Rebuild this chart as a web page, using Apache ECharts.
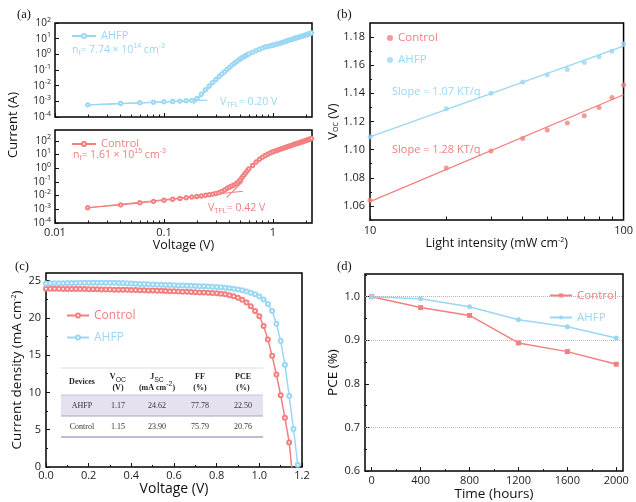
<!DOCTYPE html>
<html><head><meta charset="utf-8">
<script src="https://cdn.jsdelivr.net/npm/echarts@6/dist/echarts.min.js"></script>
<style>html,body{margin:0;padding:0;background:#fff}#c{width:636px;height:502px}</style>
</head><body><div id="c"></div>
<script>
// ---------- DATA ----------
// (a) SCLC dark J-V (log-log)
const scVolt = [0.02,0.04,0.06,0.08,0.10,0.12,0.14,0.16,0.18,0.20,
  0.22,0.24,0.26,0.28,0.30,0.32,0.34,0.36,0.38,0.40,
  0.42,0.44,0.46,0.48,0.50,0.52,0.54,0.56,0.58,0.60,
  0.65,0.70,0.75,0.80,0.85,0.90,0.95,1.00,1.05,1.10,
  1.15,1.20,1.25,1.30,1.35,1.40,1.45,1.50,1.55,1.60,
  1.65,1.70,1.75,1.80,1.85,1.90,1.95,2.00,2.05,2.10,
  2.15,2.20,2.25];
const scAHFP = [5.9e-4,7.2e-4,8.0e-4,8.7e-4,9.3e-4,9.8e-4,1.03e-3,1.08e-3,1.15e-3,1.5e-3,
  2.8e-3,5.5e-3,0.0095,0.016,0.025,0.038,0.055,0.078,0.11,0.15,
  0.20,0.26,0.33,0.41,0.50,0.60,0.70,0.82,0.94,1.05,
  1.35,1.7,2.1,2.5,2.9,3.2,3.5,3.8,4.2,4.6,
  5.0,5.5,6.0,6.6,7.3,8.0,8.6,9.2,9.9,10.6,
  11.3,12.0,12.8,13.6,14.4,15.3,16.2,17.2,18.2,19.3,
  20.4,21.6,22.8];
const scControl = [1.3e-3,2.1e-3,3.0e-3,3.8e-3,4.6e-3,5.4e-3,6.2e-3,7.0e-3,7.8e-3,8.6e-3,
  9.5e-3,0.0105,0.0116,0.0128,0.0142,0.0165,0.020,0.026,0.034,0.042,
  0.050,0.060,0.075,0.10,0.14,0.21,0.31,0.45,0.65,0.90,
  1.6,2.9,4.5,6.5,8.7,11,13.5,16,18.5,21,
  24,27,30,33,37,41,45,49,54,59,
  64,69,74,80,86,92,99,106,113,121,
  130,139,148];
const fitAHFPohmic = [[0.02,5.9e-4],[0.25,1.2e-3]];
const fitAHFPtfl = [[0.186,6.8e-4],[0.40,0.16]];
const fitControlOhmic = [[0.02,1.3e-3],[0.53,0.021]];
const fitControlTfl = [[0.376,0.0074],[0.53,0.11]];
const decadeTicks = [1e-4,1e-3,1e-2,1e-1,1,10,100];
const voltMajor = [0.01,0.1,1];
const voltMinor = [0.02,0.03,0.04,0.05,0.06,0.07,0.08,0.09,0.2,0.3,0.4,0.5,0.6,0.7,0.8,0.9,2];

// (b) Voc vs light intensity
const intensity = [10,20,30,40,50,60,70,80,90,100];
const vocControl = [1.064,1.087,1.099,1.108,1.114,1.119,1.124,1.130,1.137,1.146];
const vocAHFP = [1.109,1.129,1.140,1.148,1.153,1.157,1.162,1.166,1.170,1.175];
const fitVocControl = [[10,1.063],[100,1.139]];
const fitVocAHFP = [[10,1.109],[100,1.1735]];
const vocTicks = [1.06,1.08,1.10,1.12,1.14,1.16,1.18];
const vocMinor = [1.05,1.07,1.09,1.11,1.13,1.15,1.17];

// (c) J-V curves
const jvVolt = [0.00,0.02,0.04,0.06,0.08,0.10,0.12,0.14,0.16,0.18,
  0.20,0.22,0.24,0.26,0.28,0.30,0.32,0.34,0.36,0.38,
  0.40,0.42,0.44,0.46,0.48,0.50,0.52,0.54,0.56,0.58,
  0.60,0.62,0.64,0.66,0.68,0.70,0.72,0.74,0.76,0.78,
  0.80,0.82,0.84,0.86,0.88,0.90,0.92,0.94,0.96,0.98,
  1.00,1.02,1.04,1.06,1.08,1.10,1.12,1.14,1.16,1.18];
const jvControl = [23.90,23.89,23.88,23.88,23.87,23.86,23.86,23.85,23.84,23.84,
  23.83,23.82,23.81,23.80,23.79,23.78,23.77,23.76,23.75,23.74,
  23.73,23.71,23.70,23.68,23.67,23.65,23.63,23.61,23.59,23.57,
  23.55,23.53,23.50,23.48,23.45,23.42,23.40,23.37,23.34,23.31,
  23.28,23.22,23.14,23.03,22.88,22.68,22.40,22.05,21.55,20.90,
  20.20,18.90,17.10,14.90,12.40,9.60,6.60,3.30,-2.40];
const jvAHFP = [24.60,24.61,24.62,24.63,24.64,24.65,24.66,24.67,24.68,24.69,
  24.70,24.70,24.71,24.71,24.71,24.70,24.69,24.67,24.65,24.62,
  24.60,24.57,24.54,24.51,24.48,24.46,24.44,24.42,24.40,24.38,
  24.36,24.34,24.32,24.30,24.28,24.26,24.24,24.21,24.18,24.15,
  24.12,24.08,24.03,23.97,23.90,23.80,23.68,23.52,23.35,23.15,
  22.85,22.45,21.85,20.90,19.20,16.90,13.70,9.50,5.10,0.30];
const jTicks = [0,5,10,15,20,25];
const jMinor = [2.5,7.5,12.5,17.5,22.5];
// table in (c)
const tblDevices = ['AHFP','Control'];
const tblVoc = ['1.17','1.15'];
const tblJsc = ['24.62','23.90'];
const tblFF = ['77.78','75.79'];
const tblPCE = ['22.50','20.76'];

// (d) stability
const hours = [0,400,800,1200,1600,2000];
const pceControl = [1.0,0.975,0.957,0.894,0.874,0.845];
const pceAHFP = [1.0,0.995,0.977,0.947,0.931,0.905];
const hourMinor = [200,600,1000,1400,1800];
const pceTicks = [0.6,0.7,0.8,0.9,1.0];
const pceMinor = [0.65,0.75,0.85,0.95,1.05];
const pceGrid = [0.7,0.9,1.0];

// ---------- STYLE ----------
const RED = '#f37f7f', BLUE = '#9ad7f4', INK = '#1c1c1c';
const FONT = 'Open Sans', SERIF = 'Liberation Serif';
const zip = (xs, ys) => ys.map((y, i) => [xs[i], y]);
const rich = {
  sup: {fontSize: 7, padding: [0, 0, 7, 0]},
  sub: {fontSize: 7, padding: [6, 0, 0, 0]}
};

function mkAxis(o) {
  const base = {
    axisLine: {show: false, onZero: false},
    splitLine: {show: false},
    axisTick: {show: true, inside: true, length: 4, lineStyle: {color: '#111', width: 1}},
    axisLabel: {show: true, color: INK, fontFamily: FONT, fontSize: 11, margin: 4},
    nameTextStyle: {color: '#111', fontFamily: FONT, fontSize: 13, rich: rich}
  };
  for (const k in o) {
    if (base[k] && typeof o[k] === 'object' && !Array.isArray(o[k])) base[k] = Object.assign({}, base[k], o[k]);
    else base[k] = o[k];
  }
  return base;
}
const noLabel = {show: false};
const decFmt = v => '10{sup|' + Math.round(Math.log10(v)) + '}';
const gridStyle = {show: true, borderColor: '#000', borderWidth: 1.5, backgroundColor: 'transparent', containLabel: false};
const legName = n => n.split('_')[0];
const legItem = (name, color) => ({name: name, textStyle: {color: color}});

const option = {
  animation: false,
  backgroundColor: '#fff',
  grid: [
    Object.assign({left: 55, top: 23, width: 257, height: 94}, gridStyle),
    Object.assign({left: 55, top: 130, width: 257, height: 93}, gridStyle),
    Object.assign({left: 370, top: 23, width: 258, height: 197}, gridStyle),
    Object.assign({left: 46, top: 273, width: 256, height: 194}, gridStyle),
    Object.assign({left: 365, top: 274, width: 258, height: 198}, gridStyle)
  ],
  xAxis: [
    mkAxis({type: 'log', gridIndex: 0, position: 'bottom', min: 0.01, max: 2.28,
      axisTick: {customValues: voltMajor}, axisLabel: noLabel}),
    mkAxis({type: 'log', gridIndex: 0, position: 'bottom', min: 0.01, max: 2.28,
      axisTick: {customValues: voltMinor, length: 2.5}, axisLabel: noLabel}),
    mkAxis({type: 'log', gridIndex: 1, position: 'bottom', min: 0.01, max: 2.28,
      axisTick: {customValues: voltMajor},
      axisLabel: {customValues: voltMajor, formatter: v => String(+(+v).toPrecision(2)), fontSize: 11, margin: 4},
      name: 'Voltage (V)', nameLocation: 'middle', nameGap: 12, nameTextStyle: {fontSize: 12.5}}),
    mkAxis({type: 'log', gridIndex: 1, position: 'bottom', min: 0.01, max: 2.28,
      axisTick: {customValues: voltMinor, length: 2.5}, axisLabel: noLabel}),
    mkAxis({type: 'log', gridIndex: 2, position: 'bottom', min: 10, max: 100,
      axisTick: {customValues: intensity, length: 3.5},
      axisLabel: {customValues: [10, 100], margin: 5},
      name: 'Light intensity (mW cm{sup|-2})', nameLocation: 'middle', nameGap: 14, nameTextStyle: {fontSize: 12.5}}),
    mkAxis({type: 'value', gridIndex: 3, position: 'bottom', min: 0, max: 1.2, interval: 0.2,
      minorTick: {show: true, splitNumber: 2, length: 2, lineStyle: {color: '#111'}},
      axisLabel: {formatter: v => (+v).toFixed(1), margin: 3},
      name: 'Voltage (V)', nameLocation: 'middle', nameGap: 15, nameTextStyle: {fontSize: 14}}),
    mkAxis({type: 'value', gridIndex: 4, position: 'bottom', min: -55, max: 2055,
      axisTick: {customValues: hours},
      axisLabel: {customValues: hours, formatter: v => String(Math.round(v)), margin: 4},
      name: 'Time (hours)', nameLocation: 'middle', nameGap: 15, nameTextStyle: {fontSize: 13.5}}),
    mkAxis({type: 'value', gridIndex: 4, position: 'bottom', min: -55, max: 2055,
      axisTick: {customValues: hourMinor, length: 2}, axisLabel: noLabel})
  ],
  yAxis: [
    mkAxis({type: 'log', gridIndex: 0, position: 'left', min: 1e-4, max: 100,
      axisTick: {customValues: decadeTicks},
      axisLabel: {customValues: decadeTicks, formatter: decFmt, fontSize: 10, margin: 4, rich: rich}}),
    mkAxis({type: 'log', gridIndex: 1, position: 'left', min: 1e-4, max: 630,
      axisTick: {customValues: decadeTicks},
      axisLabel: {customValues: decadeTicks, formatter: decFmt, fontSize: 10, margin: 4, rich: rich}}),
    mkAxis({type: 'value', gridIndex: 2, position: 'left', min: 1.05, max: 1.19,
      axisTick: {customValues: vocTicks},
      axisLabel: {customValues: vocTicks, formatter: v => (+v).toFixed(2), margin: 5},
      name: 'V{sub|OC} (V)', nameLocation: 'middle', nameGap: 30, nameTextStyle: {fontSize: 13}}),
    mkAxis({type: 'value', gridIndex: 2, position: 'left', min: 1.05, max: 1.19,
      axisTick: {customValues: vocMinor, length: 2}, axisLabel: noLabel}),
    mkAxis({type: 'value', gridIndex: 3, position: 'left', min: 0, max: 26,
      axisTick: {customValues: jTicks},
      axisLabel: {customValues: jTicks, margin: 5},
      name: 'Current density (mA cm{sup|-2})', nameLocation: 'middle', nameGap: 20, nameTextStyle: {fontSize: 13.5}}),
    mkAxis({type: 'value', gridIndex: 3, position: 'left', min: 0, max: 26,
      axisTick: {customValues: jMinor, length: 2}, axisLabel: noLabel}),
    mkAxis({type: 'value', gridIndex: 4, position: 'left', min: 0.6, max: 1.052,
      axisTick: {customValues: pceTicks},
      axisLabel: {customValues: pceTicks, formatter: v => (+v).toFixed(1), margin: 5},
      name: 'PCE (%)', nameLocation: 'middle', nameGap: 22, nameTextStyle: {fontSize: 13.5}}),
    mkAxis({type: 'value', gridIndex: 4, position: 'left', min: 0.6, max: 1.052,
      axisTick: {customValues: pceMinor, length: 2}, axisLabel: noLabel})
  ],
  legend: [
    {data: [legItem('AHFP_a', BLUE)], left: 71, top: 30.5, itemWidth: 24, itemHeight: 5, formatter: legName,
      textStyle: {color: BLUE, fontFamily: FONT, fontSize: 11}, padding: 0},
    {data: [legItem('Control_a', RED)], left: 71, top: 138.5, itemWidth: 24, itemHeight: 5, formatter: legName,
      textStyle: {color: RED, fontFamily: FONT, fontSize: 11}, padding: 0},
    {data: [legItem('Control_b', RED), legItem('AHFP_b', BLUE)], left: 387, top: 32, orient: 'vertical',
      itemWidth: 6, itemHeight: 6, itemGap: 10, formatter: legName, padding: 0,
      textStyle: {fontFamily: FONT, fontSize: 11.5}},
    {data: [legItem('Control_c', RED), legItem('AHFP_c', BLUE)], left: 66, top: 309.5, orient: 'vertical',
      itemWidth: 22, itemHeight: 5, itemGap: 10, formatter: legName, padding: 0,
      textStyle: {fontFamily: FONT, fontSize: 12}},
    {data: [legItem('Control_d', RED), legItem('AHFP_d', BLUE)], left: 549, top: 289.5, orient: 'vertical',
      itemWidth: 22, itemHeight: 5, itemGap: 10, formatter: legName, padding: 0,
      textStyle: {fontFamily: FONT, fontSize: 11.5}}
  ],
  series: [
    {name: 'AHFP_a', type: 'line', xAxisIndex: 0, yAxisIndex: 0, data: zip(scVolt, scAHFP),
      symbol: 'emptyCircle', symbolSize: 3.5, color: BLUE, lineStyle: {width: 1.2, color: BLUE}, itemStyle: {color: BLUE, borderWidth: 0.8}},
    {name: 'fitA1', type: 'line', xAxisIndex: 0, yAxisIndex: 0, data: fitAHFPohmic, symbol: 'none', lineStyle: {width: 1.2, color: BLUE}},
    {name: 'fitA2', type: 'line', xAxisIndex: 0, yAxisIndex: 0, data: fitAHFPtfl, symbol: 'none', lineStyle: {width: 1.2, color: BLUE}},
    {name: 'Control_a', type: 'line', xAxisIndex: 2, yAxisIndex: 1, data: zip(scVolt, scControl),
      symbol: 'emptyCircle', symbolSize: 3.5, color: RED, lineStyle: {width: 1.2, color: RED}, itemStyle: {color: RED, borderWidth: 0.8}},
    {name: 'fitC1', type: 'line', xAxisIndex: 2, yAxisIndex: 1, data: fitControlOhmic, symbol: 'none', lineStyle: {width: 1.2, color: RED}},
    {name: 'fitC2', type: 'line', xAxisIndex: 2, yAxisIndex: 1, data: fitControlTfl, symbol: 'none', lineStyle: {width: 1.2, color: RED}},
    {name: 'Control_b', type: 'scatter', xAxisIndex: 4, yAxisIndex: 2, data: zip(intensity, vocControl),
      symbol: 'circle', symbolSize: 5, color: RED, itemStyle: {color: RED}},
    {name: 'AHFP_b', type: 'scatter', xAxisIndex: 4, yAxisIndex: 2, data: zip(intensity, vocAHFP),
      symbol: 'circle', symbolSize: 5, color: BLUE, itemStyle: {color: BLUE}},
    {name: 'fitB1', type: 'line', xAxisIndex: 4, yAxisIndex: 2, data: fitVocControl, symbol: 'none', lineStyle: {width: 1.3, color: RED}},
    {name: 'fitB2', type: 'line', xAxisIndex: 4, yAxisIndex: 2, data: fitVocAHFP, symbol: 'none', lineStyle: {width: 1.3, color: BLUE}},
    {name: 'Control_c', type: 'line', xAxisIndex: 5, yAxisIndex: 4, data: zip(jvVolt, jvControl),
      symbol: 'emptyCircle', symbolSize: 4, color: RED, lineStyle: {width: 1.5, color: RED}, itemStyle: {color: RED, borderWidth: 1}},
    {name: 'AHFP_c', type: 'line', xAxisIndex: 5, yAxisIndex: 4, data: zip(jvVolt, jvAHFP),
      symbol: 'emptyCircle', symbolSize: 4, color: BLUE, lineStyle: {width: 1.5, color: BLUE}, itemStyle: {color: BLUE, borderWidth: 1}},
    {name: 'Control_d', type: 'line', xAxisIndex: 6, yAxisIndex: 6, data: zip(hours, pceControl),
      symbol: 'rect', symbolSize: 5, color: RED, lineStyle: {width: 1.5, color: RED}, itemStyle: {color: RED},
      markLine: {silent: true, symbol: 'none', label: {show: false}, animation: false,
        lineStyle: {type: 'dotted', color: '#b5b5b5', width: 1},
        data: pceGrid.map(v => ({yAxis: v}))}},
    {name: 'AHFP_d', type: 'line', xAxisIndex: 6, yAxisIndex: 6, data: zip(hours, pceAHFP),
      symbol: 'circle', symbolSize: 5, color: BLUE, lineStyle: {width: 1.5, color: BLUE}, itemStyle: {color: BLUE}}
  ],
  graphic: []
};

// ---------- TEXT / TABLE ----------
const G = option.graphic;
function txt(x, y, text, o) {
  o = o || {};
  G.push({type: 'text', x: x, y: y, rotation: o.rot || 0, silent: true, z: 100,
    style: {text: text, fill: o.color || INK, fontSize: o.size || 11, fontFamily: o.font || FONT,
      fontWeight: o.weight || 'normal',
      textAlign: o.align || 'left', align: o.align || 'left',
      textVerticalAlign: 'middle', verticalAlign: 'middle', rich: rich}});
}
txt(17, 15, '(a)', {font: SERIF, size: 12.5, color: '#111'});
txt(337, 15, '(b)', {font: SERIF, size: 12.5, color: '#111'});
txt(15, 267, '(c)', {font: SERIF, size: 12.5, color: '#111'});
txt(337, 267, '(d)', {font: SERIF, size: 12.5, color: '#111'});
txt(13, 125, 'Current (A)', {rot: Math.PI / 2, align: 'center', size: 13, color: '#111'});
txt(72, 50, 'n{sub|t}= 7.74 × 10{sup|14} cm{sup|-3}', {color: BLUE, size: 10.5});
txt(73, 155, 'n{sub|t}= 1.61 × 10{sup|15} cm{sup|-3}', {color: RED, size: 10.5});
txt(220, 102, 'V{sub|TFL}= 0.20 V', {color: BLUE, size: 10.5});
txt(208, 208, 'V{sub|TFL}= 0.42 V', {color: RED, size: 10.5});
txt(392, 92, 'Slope = 1.07 KT/q', {color: BLUE, size: 11});
txt(392, 150, 'Slope = 1.28 KT/q', {color: RED, size: 11});

// table
const tx = [82, 118, 157, 200, 243];
const tL = 61, tR = 263;
G.push({type: 'line', silent: true, z: 90, shape: {x1: tL, y1: 368, x2: tR, y2: 368}, style: {stroke: '#dcdcdc', lineWidth: 1}});
G.push({type: 'rect', silent: true, z: 89, shape: {x: tL, y: 395, width: tR - tL, height: 21}, style: {fill: '#e6e1ee'}});
G.push({type: 'line', silent: true, z: 90, shape: {x1: tL, y1: 395, x2: tR, y2: 395}, style: {stroke: '#c9c1d9', lineWidth: 1}});
G.push({type: 'line', silent: true, z: 90, shape: {x1: tL, y1: 416, x2: tR, y2: 416}, style: {stroke: '#ada3c4', lineWidth: 1}});
G.push({type: 'line', silent: true, z: 90, shape: {x1: tL, y1: 437, x2: tR, y2: 437}, style: {stroke: '#ada3c4', lineWidth: 1.5}});
const hdr1 = ['Devices', 'V{sub|OC}', 'J{sub|SC}', 'FF', 'PCE'];
const hdr2 = ['', '(V)', '(mA cm{sup|-2})', '(%)', '(%)'];
hdr1.forEach((h, i) => txt(tx[i], i === 0 ? 382 : 377, h, {font: SERIF, size: 8, weight: 'bold', align: 'center', color: '#222'}));
hdr2.forEach((h, i) => { if (h) txt(tx[i], 388, h, {font: SERIF, size: 8, weight: 'bold', align: 'center', color: '#222'}); });
const rowY = [405.5, 426.5];
tblDevices.forEach((d, r) => {
  [d, tblVoc[r], tblJsc[r], tblFF[r], tblPCE[r]].forEach((v, i) =>
    txt(tx[i], rowY[r], v, {font: SERIF, size: 8, align: 'center', color: '#333'}));
});

const chart = echarts.init(document.getElementById('c'));
chart.setOption(option);
</script>
</body></html>
